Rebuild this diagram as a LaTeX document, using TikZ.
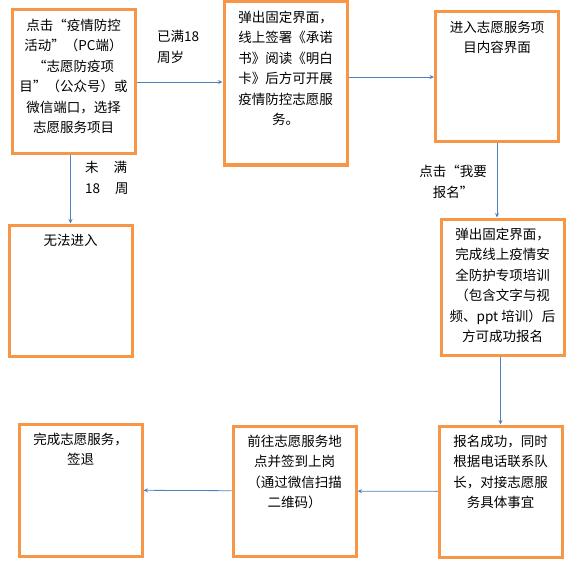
\documentclass[tikz,border=0pt]{standalone}
\usepackage{fontspec}
\newfontfamily\cjk{Noto Sans CJK SC}
\usetikzlibrary{arrows.meta}
\definecolor{boxorange}{RGB}{247,150,70}
\definecolor{arrowblue}{RGB}{79,129,189}
\tikzset{
  box/.style={draw=boxorange, line width=3pt, minimum width=123pt, inner sep=0pt},
  txt/.style={font=\cjk\fontsize{13.5}{20.5}\selectfont, align=center, anchor=north, inner sep=0pt},
  lbl/.style={font=\cjk\fontsize{13.5}{20.5}\selectfont, inner sep=0pt},
  arr/.style={draw=arrowblue, line width=0.8pt, -{Stealth[length=4.5pt,width=4pt]}},
}
\begin{document}
\begin{tikzpicture}[x=1pt, y=-1pt]
    \useasboundingbox (0,0) rectangle (580,564);

    % Riquadri
    \node[box, minimum height=144pt] (click)   at (73.5,82)   {};
    \node[box, minimum height=163pt] (sign)    at (285.5,83.5) {};
    \node[box, minimum height=130pt] (enter)   at (497,77)    {};
    \node[box, minimum height=131pt] (noentry) at (70.5,290.5) {};
    \node[box, minimum height=136pt] (train)   at (502.5,287) {};
    \node[box, minimum height=131pt] (success) at (500.5,491.5) {};
    \node[box, minimum height=130pt] (go)      at (294.5,491) {};
    \node[box, minimum height=132pt] (finish)  at (80.5,490)  {};

    % Testi
    \node[txt] (clicktxt) at ([yshift=-10pt]click.north)
        {点击“疫情防控\\活动”（PC端）\\“志愿防疫项\\目”（公众号）或\\微信端口，选择\\志愿服务项目};
    \node[txt] (signtxt) at ([yshift=-10pt]sign.north)
        {弹出固定界面，\\线上签署《承诺\\书》阅读《明白\\卡》后方可开展\\疫情防控志愿服\\务。};
    \node[txt] (entertxt) at ([yshift=-10pt]enter.north)
        {进入志愿服务项\\目内容界面};
    \node[txt] (noentrytxt) at ([yshift=-10pt]noentry.north) {无法进入};
    \node[txt] (traintxt) at ([yshift=-10pt]train.north)
        {弹出固定界面，\\完成线上疫情安\\全防护专项培训\\（包含文字与视\\频、ppt 培训）后\\方可成功报名};
    \node[txt] (successtxt) at ([yshift=-10pt]success.north)
        {报名成功，同时\\根据电话联系队\\长，对接志愿服\\务具体事宜};
    \node[txt] (gotxt) at ([yshift=-10pt]go.north)
        {前往志愿服务地\\点并签到上岗\\（通过微信扫描\\二维码）};
    \node[txt] (finishtxt) at ([yshift=-10pt]finish.north)
        {完成志愿服务，\\签退};

    % Frecce
    \draw[arr] (click) -- (sign.west |- click);
    \draw[arr] (sign.east |- enter) -- (enter);
    \draw[arr] (click.south -| noentry) -- (noentry);
    \draw[arr] (enter) -- (enter |- train.north);
    \draw[arr] (train.south -| success) -- (success);
    \draw[arr] (success) -- (go);
    \draw[arr] (go) -- (finish);

    % Etichette
    \node[lbl, align=left, anchor=north west] (adult) at (157,30) {已满18\\周岁};
    \node[lbl, align=left, anchor=north west] (minor) at (85,161)
        {未\hspace{1.1em}满\\18\hspace{1.1em}周};
    \node[lbl, align=center] (signup) at (453,182) {点击“我要\\报名”};
\end{tikzpicture}
\end{document}
